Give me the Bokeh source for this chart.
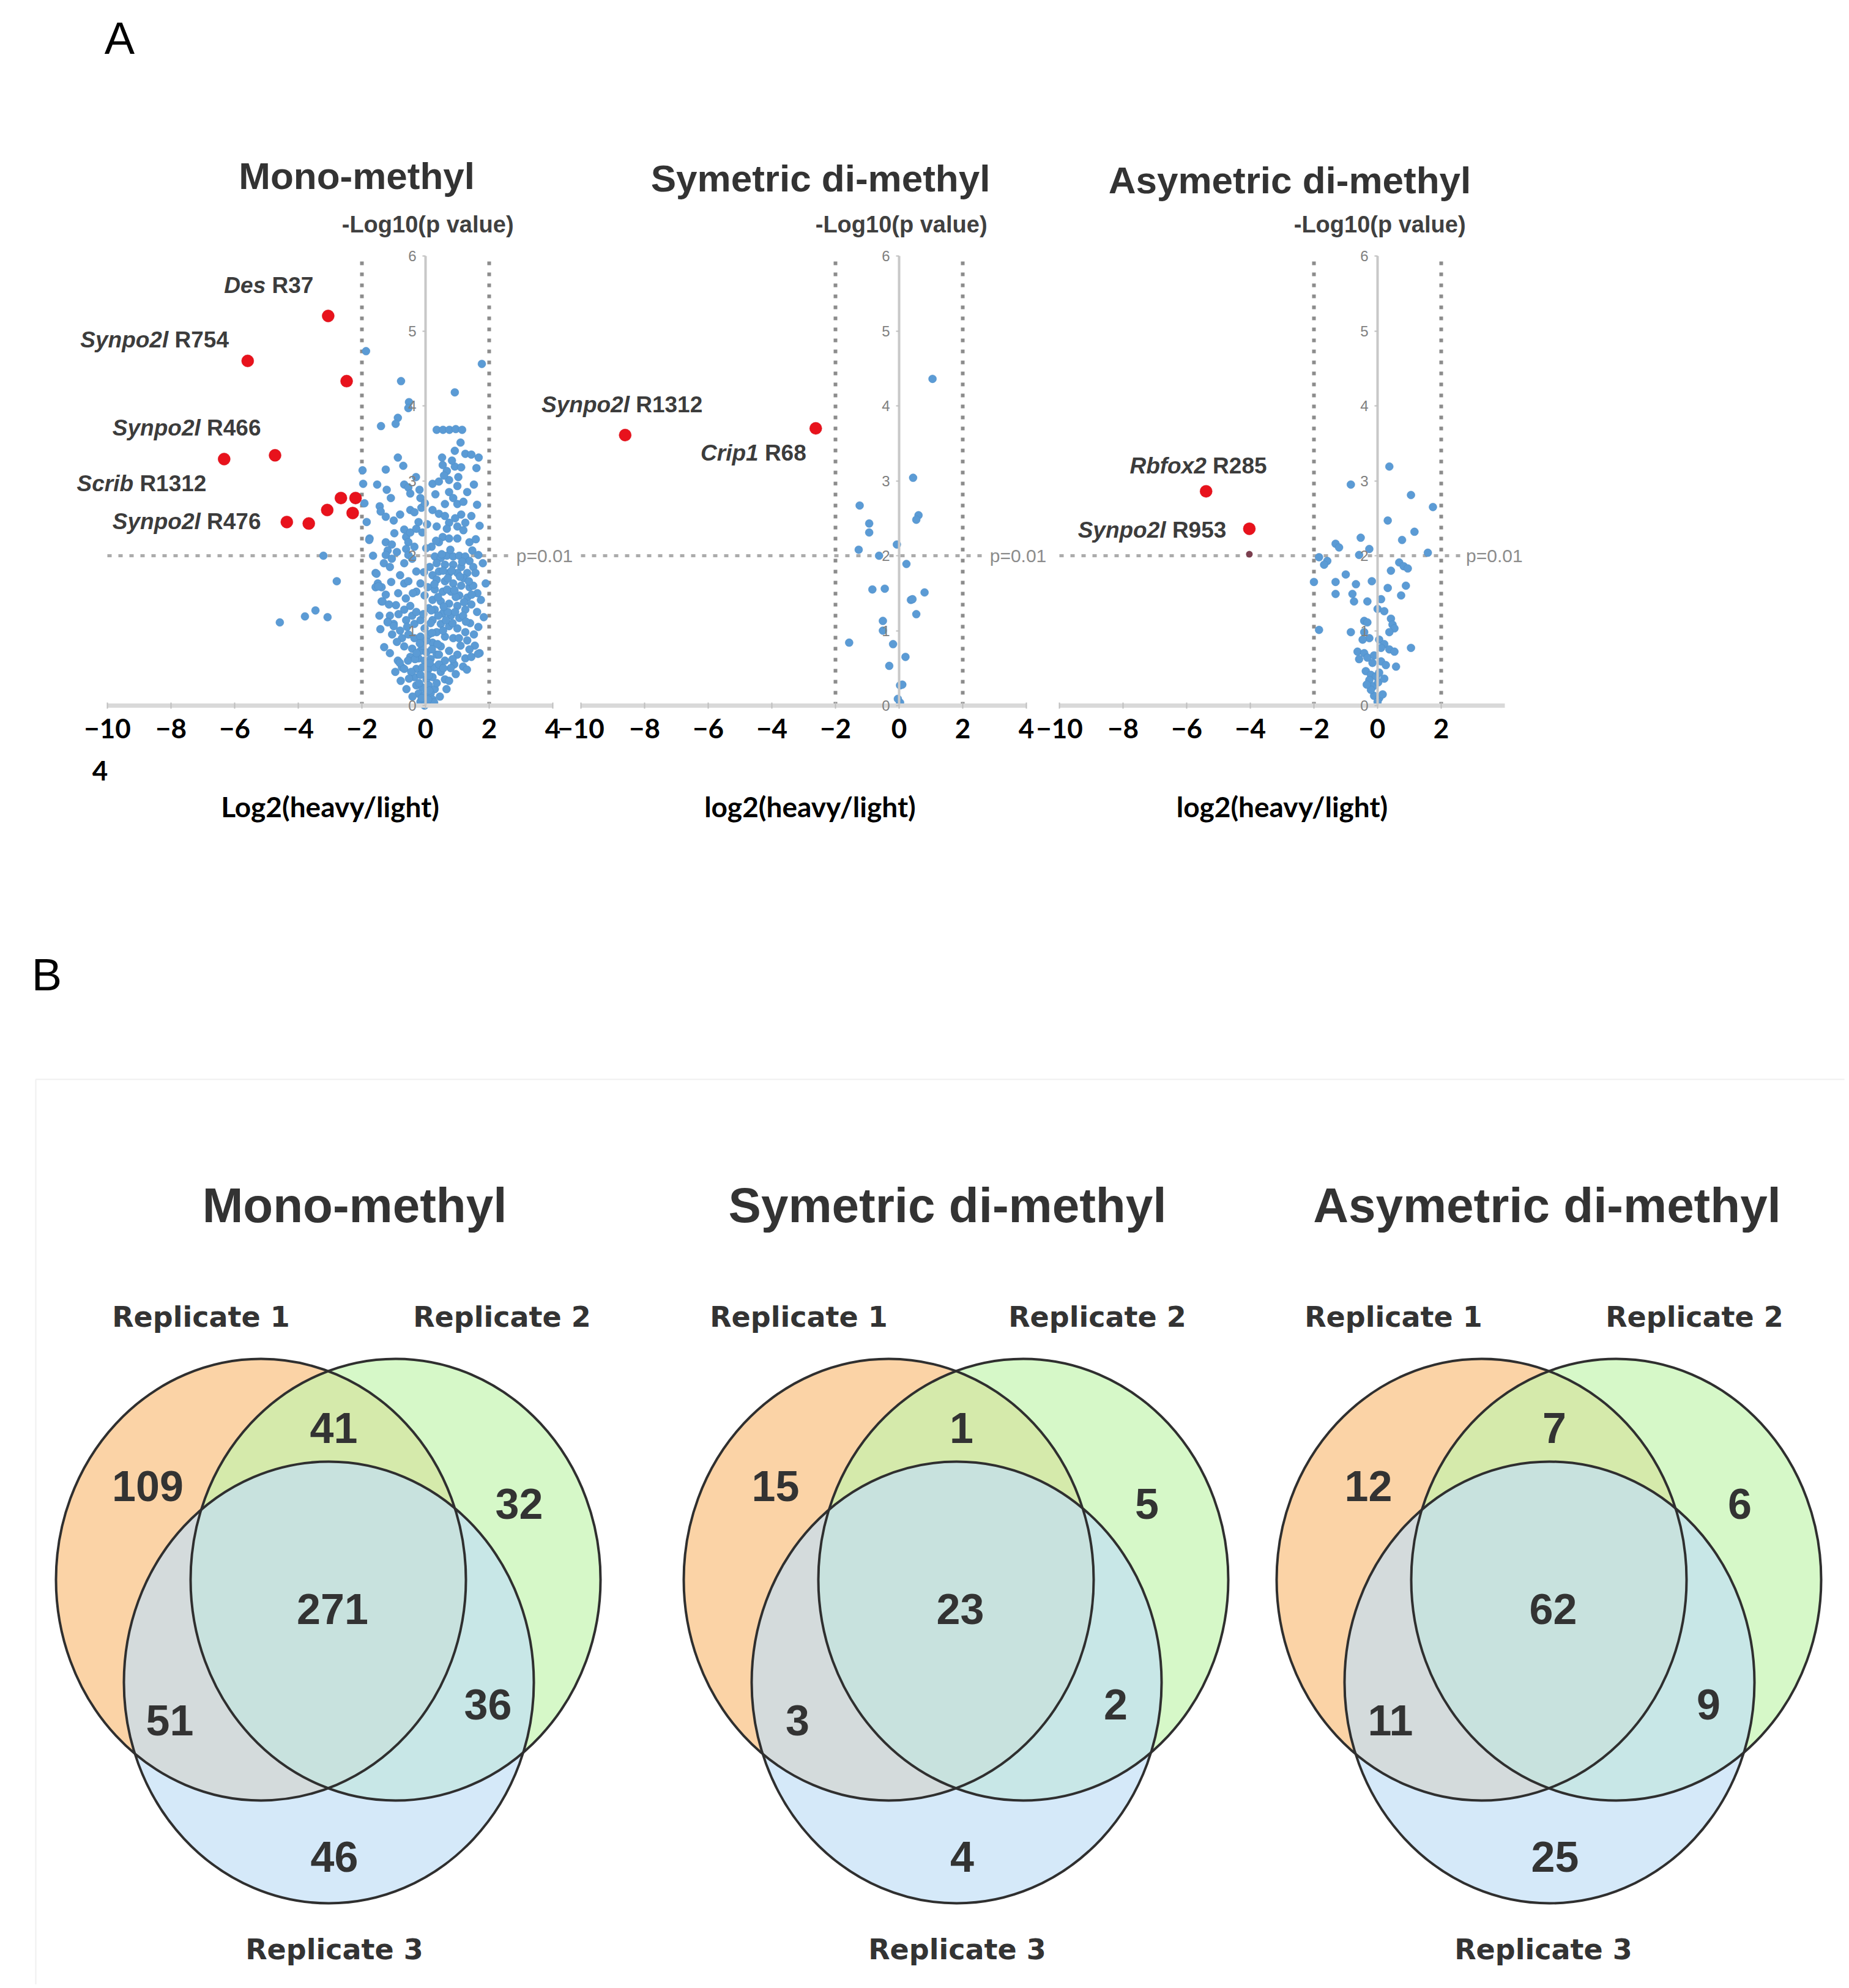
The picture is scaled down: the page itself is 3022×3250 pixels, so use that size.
from bokeh.plotting import figure
from bokeh.models import Range1d, LinearAxis, FixedTicker, ColumnDataSource
from bokeh.core.properties import value
from bokeh.embed import file_html
from bokeh.resources import INLINE

# ------------------------------------------------------------------ data
panel_titles = ["Mono-methyl", "Symetric di-methyl", "Asymetric di-methyl"]
x_titles = ["Log2(heavy/light)", "log2(heavy/light)", "log2(heavy/light)"]
x_ticks = [[-10, -8, -6, -4, -2, 0, 2, 4], [-10, -8, -6, -4, -2, 0, 2, 4], [-10, -8, -6, -4, -2, 0, 2]]
y_ticks = [0, 1, 2, 3, 4, 5, 6]

mono_blue_x = [-1.87, 1.77, -0.77, 0.92, -0.52, -0.54, -0.87, -0.94, -1.40, 0.35, 0.55, 0.75, 0.95, 1.15, 1.10, 0.92,
               1.25, 1.44, 1.67, 0.52, 0.54, 0.67, 0.92, 1.12, 1.60, -0.87, -1.25, -1.98,
               -1.96, -1.22, -1.09, -0.67, -0.54, -0.48, -0.19, -0.16, -1.44, -1.41, -1.25, -1.00, -0.48, -0.35, -0.13,
               0.22, 0.42, 0.61, 0.35, -0.67, -0.61, -0.48, -0.29, -0.10, -1.76, -1.25, -1.06, -1.19, -0.54, -0.35, -0.61,
               0.22, 0.42, 0.74, 1.00, 0.74, 0.87, 0.61, 1.00, 1.19, 1.31, 1.44, 1.12, 0.93, 0.74, 1.00, 1.19, 1.25,
               0.67, 0.54, 0.74, 1.00, 0.42, 1.38,
               -1.25, -1.06, -1.31, -1.12, -0.54, -0.42, -0.67, 0.29, 0.48, 0.67, 0.87, 1.06, 1.25, 1.38, 1.50, 1.57,
               0.35, 0.61, 0.87, 1.12, 0.42, 0.74, 1.00, 1.31, 0.22,
               -1.57, -1.50, -1.57, -1.38, -0.80, -0.67, -0.54, -0.29, -0.16, -0.29, -0.03, -1.38, -0.93,
               1.89, 1.63, 1.44, 0.35, 0.61, 0.87, 1.12, 1.38, 0.29, 0.54, 0.80, 1.06, 1.31, 0.22, 0.48, 0.74, 1.00,
               1.25, 0.29, 0.54, 0.80, 1.06, 0.22, 0.48, 0.74, 1.00, 1.25, 1.31, 0.35, 0.61, 0.87, 0.22, 0.48, 0.74,
               1.00, 1.25, 1.44, 0.35, 0.61, 0.61, 0.74,
               -1.12, -1.19, -1.00, -0.80, -0.67, -0.48, -0.42, -0.29, -0.61, -0.35, -0.16, -0.03, -0.74, -0.54, -0.35,
               -0.16, 0.03, -0.67, -0.42, -0.16, 0.03, -0.48, -0.22, -0.03, -0.87, -0.74,
               -0.29, -0.10, 0.10, 0.29, -0.35, -0.16, 0.03, 0.22, -0.29, -0.10, 0.10, 0.29, -0.22, -0.03, 0.16, -0.16,
               0.03, 0.22, -0.03,
               -3.21, -2.79, -3.46, -3.79, -3.08, -4.58, -1.77, -1.54, -1.48, -1.35, -0.81, -0.67, -1.19, -1.00,
               0.10, 0.16, 0.10, -0.10, 0.16, 0.42, 0.48, 0.35, 0.55, 0.70, 0.95, 1.18, 1.10, 0.90, 0.68, 0.40, 0.85,
               1.20, 0.55, 0.10, -0.45, -0.55, -0.90, -1.05, 0.20, 0.82, 1.40, 1.55, 1.70, 1.50, 1.65,
               -1.42, -1.30, -1.12, -0.95, -0.78, -0.60, -0.41, -0.52, -0.33, -0.18, -0.07, 0.07, 0.13, 0.19, 0.05,
               -0.02, 0.31, 0.58, 0.83, 1.03, 1.52, 1.62, 1.70, 1.58, 1.47, 1.66, 1.80, 1.74, 1.83, 1.66, 1.52, 1.38,
               1.18, 0.95, 0.79, 0.66, 0.45, 0.27, 0.13, 0.38, 0.57, 0.91, 1.15, 0.78, 0.51, 0.28, 0.39, 0.64, 0.93,
               1.21, 1.36, 1.08, 0.70, 0.18, -0.05, -0.40, -0.62, -0.86, -1.08, -1.25, -1.45, -0.98, -0.80, -0.90,
               -1.65, -1.85, -1.92, -1.52, -0.30, -0.70, -0.22, 0.02, 0.33, 0.12, -0.20, 0.42, 0.20, -0.12, 0.08,
               -0.28, -0.58, -0.85, -1.15, 0.56, 0.85, 1.05, 1.27, 1.45, 1.62, 1.30]
mono_blue_y = [4.73, 4.56, 4.33, 4.18, 4.05, 3.97, 3.84, 3.76, 3.73, 3.68, 3.68, 3.68, 3.69, 3.68, 3.51, 3.40,
               3.36, 3.35, 3.31, 3.31, 3.21, 3.13, 3.19, 3.18, 3.17, 3.31, 3.15, 3.14,
               2.96, 2.88, 2.77, 2.95, 2.91, 2.83, 2.88, 2.77, 2.66, 2.59, 2.52, 2.47, 2.61, 2.58, 2.64,
               2.61, 2.56, 2.53, 2.39, 2.35, 2.25, 2.31, 2.36, 2.31, 2.23, 2.18, 2.15, 2.07, 2.18, 2.12, 2.09,
               2.96, 2.99, 3.01, 2.93, 2.85, 2.77, 2.69, 2.69, 2.72, 2.85, 2.53, 2.55, 2.50, 2.44, 2.39, 2.34, 2.44,
               2.36, 2.25, 2.23, 2.23, 2.18, 2.18,
               2.01, 1.96, 1.90, 1.85, 2.01, 1.96, 1.90, 1.99, 1.97, 2.00, 1.99, 2.00, 1.99, 1.93, 1.85, 1.77,
               1.90, 1.88, 1.88, 1.85, 1.79, 1.77, 1.77, 1.77, 1.74,
               1.77, 1.63, 1.58, 1.58, 1.74, 1.63, 1.66, 1.79, 1.63, 1.52, 1.47, 1.39, 1.34,
               1.63, 1.50, 1.35, 1.68, 1.66, 1.63, 1.60, 1.58, 1.55, 1.52, 1.52, 1.47, 1.44, 1.41, 1.39, 1.36, 1.33,
               1.28, 1.28, 1.23, 1.20, 1.17, 1.14, 1.09, 1.06, 1.03, 0.98, 0.87, 0.98, 0.92, 0.90, 0.84, 0.79, 0.73,
               0.68, 0.63, 0.65, 0.68, 0.60, 0.35, 0.33,
               1.20, 1.12, 1.09, 1.00, 1.28, 1.33, 1.20, 1.25, 1.14, 1.09, 1.14, 1.03, 0.90, 0.95, 0.90,
               0.92, 0.87, 0.79, 0.76, 0.73, 0.71, 0.65, 0.63, 0.60, 0.60, 0.51,
               0.49, 0.51, 0.49, 0.51, 0.38, 0.41, 0.35, 0.38, 0.27, 0.24, 0.27, 0.22, 0.16, 0.14, 0.16, 0.05,
               0.03, 0.08, 0.00,
               2.00, 1.66, 1.27, 1.19, 1.18, 1.11, 2.21, 1.76, 1.59, 1.39, 0.57, 0.49, 1.11, 1.06,
               1.30, 1.10, 0.95, 0.80, 0.62, 0.55, 0.45, 0.30, 1.00, 1.25, 1.45, 1.20, 0.80, 0.55, 1.55, 1.20, 1.10,
               1.70, 1.80, 0.40, 0.45, 0.60, 0.85, 0.95, 0.97, 1.80, 1.10, 0.80, 0.70, 1.60, 0.69,
               1.02, 0.78, 0.70, 0.45, 0.33, 0.22, 0.12, 0.36, 0.62, 0.83, 1.22, 1.58, 1.85, 2.12, 2.42,
               2.70, 2.82, 3.07, 3.27, 3.05, 2.95, 2.68, 2.40, 2.22, 2.07, 2.01, 1.90, 1.41, 1.18, 1.05, 0.95, 0.75,
               0.52, 0.42, 0.50, 0.22, 0.12, 0.04, 0.57, 0.82, 1.32, 1.54, 1.92, 2.08, 2.02, 1.62, 1.45, 1.14, 1.25,
               1.38, 1.66, 1.72, 1.70, 1.27, 1.78, 1.50, 1.43, 1.50, 1.65, 1.48, 1.20, 2.30, 2.55, 2.05,
               2.00, 2.45, 2.70, 2.95, 3.05, 3.20, 2.45, 2.10, 2.20, 0.20, 0.30, 0.68, 0.75, 0.10, 0.08,
               0.70, 1.05, 1.22, 1.35, 0.50, 0.62, 0.90, 1.12, 1.48, 1.25, 0.48]

sym_blue_x = [1.05, 0.44, -1.24, -0.94, -0.94, 0.61, 0.54, -0.07, -1.27, -0.63, 0.23, -0.84, -0.45, 0.80, 0.37, 0.42,
              0.54, -0.51, -0.51, -1.57, -0.19, 0.20, -0.31, 0.03, 0.10, 0.03, -0.04]
sym_blue_y = [4.36, 3.04, 2.67, 2.43, 2.31, 2.54, 2.48, 2.15, 2.08, 2.00, 1.89, 1.55, 1.56, 1.51, 1.41, 1.42,
              1.22, 1.13, 1.00, 0.84, 0.82, 0.65, 0.53, 0.27, 0.28, 0.04, 0.09]

asym_blue_x = [0.37, -0.84, 1.05, 1.74, 0.32, 1.16, -0.53, 0.77, -1.32, -1.21, -0.26, -0.58, 1.58, -1.84, -1.58,
               -1.68, 0.68, 0.82, 0.95, 0.42, -1.00, -1.32, -0.18, -2.00, -0.68, 0.32, 0.89, 0.74, -1.32, -0.79,
               -0.74, 0.11, -0.32, 0.00, 0.21, -0.42, -0.32, 0.42, 0.47, 0.53, 0.37, -0.84, -1.84, -0.42, -0.26,
               -0.47, 1.05, 0.05, 0.21, 0.11, 0.37, 0.53, -0.63, -0.42, -0.58, -0.32, -0.11, -0.16, 0.11, 0.26,
               0.58, -0.37, -0.21, -0.05, 0.05, -0.26, -0.13, 0.02, 0.21, -0.11, 0.05, 0.16, 0.00, -0.21, -0.34]
asym_blue_y = [3.19, 2.95, 2.81, 2.65, 2.47, 2.32, 2.24, 2.21, 2.16, 2.11, 2.09, 2.01, 2.04, 1.98, 1.93,
               1.88, 1.91, 1.86, 1.83, 1.80, 1.75, 1.65, 1.66, 1.65, 1.62, 1.57, 1.60, 1.47, 1.49, 1.49,
               1.39, 1.42, 1.39, 1.29, 1.26, 1.13, 1.11, 1.16, 1.08, 1.03, 0.98, 0.98, 1.01, 0.98, 0.90,
               0.88, 0.77, 0.88, 0.82, 0.77, 0.75, 0.72, 0.72, 0.70, 0.62, 0.64, 0.67, 0.57, 0.59, 0.54,
               0.52, 0.46, 0.41, 0.39, 0.44, 0.34, 0.26, 0.31, 0.36, 0.13, 0.10, 0.15, 0.05, 0.21, 0.28]

mono_red_x = [-3.06, -5.59, -2.48, -4.73, -6.33, -2.66, -2.20, -2.29, -3.09, -3.67, -4.36]
mono_red_y = [5.20, 4.60, 4.33, 3.34, 3.29, 2.77, 2.77, 2.57, 2.61, 2.43, 2.45]
sym_red_x = [-8.61, -2.62]
sym_red_y = [3.61, 3.70]
asym_red_x = [-5.39, -4.03]
asym_red_y = [2.86, 2.36]
asym_dark_x = [-4.03]
asym_dark_y = [2.02]

mono_genes = ["Des", "Synpo2l", "Synpo2l", "Scrib", "Synpo2l"]
mono_sites = ["R37", "R754", "R466", "R1312", "R476"]
mono_lab_x = [-6.33, -10.85, -9.84, -10.96, -9.84]
mono_lab_y = [5.61, 4.88, 3.71, 2.96, 2.46]
sym_genes = ["Synpo2l", "Crip1"]
sym_sites = ["R1312", "R68"]
sym_lab_x = [-11.24, -6.24]
sym_lab_y = [4.02, 3.37]
asym_genes = ["Rbfox2", "Synpo2l"]
asym_sites = ["R285", "R953"]
asym_lab_x = [-7.79, -9.42]
asym_lab_y = [3.20, 2.34]

fc_cut = 2.0
p_cut = 2.0   # -log10(0.01)

# Venn counts: only R1, R1&R2, only R2, all three, R1&R3, R2&R3, only R3
venn_titles = ["Mono-methyl", "Symetric di-methyl", "Asymetric di-methyl"]
venn_counts = [[109, 41, 32, 271, 51, 36, 46],
               [15, 1, 5, 23, 3, 2, 4],
               [12, 7, 6, 62, 11, 9, 25]]
rep_names = ["Replicate 1", "Replicate 2", "Replicate 3"]

# ------------------------------------------------------------------ layout constants (image pixels)
W, H = 3016, 3244
IMG_H = 3250
PX = 52.0          # px per log2 unit
PY = 122.5         # px per -log10 unit
Y0 = 1153          # image y of -log10 = 0
X0 = [695, 1469, 2251]


def iy(v):
    return IMG_H - v


p = figure(width=W, height=H, output_backend="svg", toolbar_location=None,
           x_axis_location=None, y_axis_location=None, min_border=0,
           x_range=Range1d(0, W), y_range=Range1d(IMG_H - H, IMG_H))
p.outline_line_color = None
p.background_fill_color = "white"
p.border_fill_color = "white"
p.grid.grid_line_color = None

p.extra_y_ranges = {"v": Range1d((Y0 - H) / PY, Y0 / PY)}
p.extra_x_ranges = {f"p{k}": Range1d((0 - X0[k]) / PX, (W - X0[k]) / PX) for k in range(3)}

FONT = value("Liberation Sans")
LATO = value("Lato")

blue_sets = [(mono_blue_x, mono_blue_y), (sym_blue_x, sym_blue_y), (asym_blue_x, asym_blue_y)]
red_sets = [(mono_red_x, mono_red_y), (sym_red_x, sym_red_y), (asym_red_x, asym_red_y)]
lab_sets = [(mono_genes, mono_sites, mono_lab_x, mono_lab_y),
            (sym_genes, sym_sites, sym_lab_x, sym_lab_y),
            (asym_genes, asym_sites, asym_lab_x, asym_lab_y)]
title_x = [-2.16, -2.47, -2.76]
title_y = [7.07, 7.04, 7.01]
xtitle_x = [-3.0, -2.8, -3.0]
pline_end = [2.7, 2.7, 2.63]

# Arial-bold advance widths (em) for label offsets
CW = {'D': .722, 'e': .556, 's': .556, 'S': .667, 'y': .556, 'n': .611, 'p': .611, 'o': .611, '2': .556,
      'l': .278, 'c': .556, 'r': .389, 'i': .278, 'b': .611, 'C': .722, '1': .556, 'R': .722, 'f': .333,
      'x': .556, ' ': .278}
LAB_FS = 37

for k in range(3):
    xr = f"p{k}"
    kw = dict(x_range_name=xr, y_range_name="v")
    # threshold lines
    p.segment(x0=[-fc_cut, fc_cut], y0=[0, 0], x1=[-fc_cut, fc_cut], y1=[6, 6],
              line_color="#8C8C8C", line_width=6, line_dash="6 12", **kw)
    p.segment(x0=[-10], y0=[p_cut], x1=[pline_end[k]], y1=[p_cut],
              line_color="#ABABAB", line_width=5, line_dash="7 11", **kw)
    p.text(x=[pline_end[k] + 0.15], y=[p_cut], text=["p=0.01"], text_font=FONT, text_font_size="30px",
           text_color="#8C8C8C", text_align="left", text_baseline="middle", **kw)

    # axes
    xa = LinearAxis(x_range_name=xr, y_range_name="v", fixed_location=0, bounds=(-10, 4),
                    ticker=FixedTicker(ticks=x_ticks[k]))
    xa.axis_line_color = "#D9D9D9"
    xa.axis_line_width = 7
    xa.major_tick_line_color = "#BFBFBF"
    xa.major_tick_line_width = 2
    xa.major_tick_in = 5
    xa.major_tick_out = 5
    xa.minor_tick_line_color = None
    xa.major_label_text_font = "Lato"
    xa.major_label_text_font_style = "bold"
    xa.major_label_text_font_size = "44px"
    xa.major_label_text_color = "black"
    xa.major_label_standoff = 16
    p.add_layout(xa, "below")

    ya = LinearAxis(x_range_name=xr, y_range_name="v", fixed_location=0, bounds=(0, 6),
                    ticker=FixedTicker(ticks=y_ticks))
    ya.axis_line_color = "#C8C8C8"
    ya.axis_line_width = 4
    ya.major_tick_line_color = "#BFBFBF"
    ya.major_tick_line_width = 2
    ya.major_tick_in = 0
    ya.major_tick_out = 5
    ya.minor_tick_line_color = None
    ya.major_label_text_font = "Liberation Sans"
    ya.major_label_text_font_size = "24px"
    ya.major_label_text_color = "#808080"
    ya.major_label_standoff = 10
    p.add_layout(ya, "left")

    # points
    bx, by = blue_sets[k]
    p.scatter(x=bx, y=by, size=13, fill_color="#5B9BD5", line_color="#4A8AC4", line_width=0.5, **kw)
    rx, ry = red_sets[k]
    p.scatter(x=rx, y=ry, size=20, fill_color="#E8121C", line_color="#D00A14", line_width=0.5, **kw)
    if k == 2:
        p.scatter(x=asym_dark_x, y=asym_dark_y, size=11, fill_color="#7B3F4F", line_color=None, **kw)

    # labels of significant sites
    genes, sites, lx, ly = lab_sets[k]
    offs = [(sum(CW.get(c, .556) for c in g) + CW[' ']) * LAB_FS for g in genes]
    p.text(x=lx, y=ly, text=genes, text_font=FONT, text_font_style="bold italic",
           text_font_size=f"{LAB_FS}px", text_color="#3C3C3C", text_align="left", text_baseline="middle", **kw)
    src = ColumnDataSource(dict(x=lx, y=ly, t=sites, o=offs))
    p.text(x="x", y="y", text="t", x_offset="o", source=src, text_font=FONT, text_font_style="bold",
           text_font_size=f"{LAB_FS}px", text_color="#3C3C3C", text_align="left", text_baseline="middle", **kw)

    # titles
    p.text(x=[title_x[k]], y=[title_y[k]], text=[panel_titles[k]], text_font=FONT, text_font_style="bold",
           text_font_size="62px", text_color="#333333", text_align="center", text_baseline="middle", **kw)
    p.text(x=[0.07], y=[6.42], text=["-Log10(p value)"], text_font=FONT, text_font_style="bold",
           text_font_size="38px", text_color="#404040", text_align="center", text_baseline="middle", **kw)
    p.text(x=[xtitle_x[k]], y=[-1.35], text=[x_titles[k]], text_font=LATO, text_font_style="bold",
           text_font_size="46px", text_color="black", text_align="center", text_baseline="middle", **kw)

# stray wrapped tick label under the first axis
p.text(x=[-10.23], y=[-0.87], text=["4"], text_font=LATO, text_font_style="bold", text_font_size="44px",
       text_color="black", text_align="center", text_baseline="middle", x_range_name="p0", y_range_name="v")

# panel letters
p.text(x=[195, 76], y=[iy(62), iy(1593)], text=["A", "B"], text_font=FONT, text_font_size="74px",
       text_color="black", text_align="center", text_baseline="middle")

# faint frame of panel B
p.segment(x0=[58, 58], y0=[iy(1764), iy(1764)], x1=[3014, 58], y1=[iy(1764), iy(3250)],
          line_color="#F0F0F0", line_width=2)

# ------------------------------------------------------------------ Venn diagrams
VC = [537, 1563, 2532]
circ_dx = [-111, 109, 0]
circ_y = [2582, 2582, 2750]
circ_fill = ["#F9BE7C", "#C3F5AE", "#C1DFF6"]
reg_dx = [-296, 8, 311, 6, -260, 260, 9]
reg_y = [2429, 2334, 2458, 2630, 2812, 2786, 3035]
vt_x = [579, 1548, 2528]
rep1_x = [328, 1305, 2277]
rep2_x = [820, 1793, 2769]
rep3_x = [546, 1564, 2522]

for i in range(3):
    cx = VC[i]
    for j in range(3):
        p.ellipse(x=[cx + circ_dx[j]], y=[iy(circ_y[j])], width=670, height=722,
                  width_units="screen", height_units="screen",
                  fill_color=circ_fill[j], fill_alpha=0.68, line_color=None)
    for j in range(3):
        p.ellipse(x=[cx + circ_dx[j]], y=[iy(circ_y[j])], width=670, height=722,
                  width_units="screen", height_units="screen",
                  fill_color=None, line_color="#2F2F2F", line_width=4)
    p.text(x=[cx + d for d in reg_dx], y=[iy(v) for v in reg_y], text=[str(c) for c in venn_counts[i]],
           text_font=FONT, text_font_style="bold", text_font_size="70px", text_color="#333333",
           text_align="center", text_baseline="middle")
    p.text(x=[vt_x[i]], y=[iy(1970)], text=[venn_titles[i]], text_font=FONT, text_font_style="bold",
           text_font_size="80px", text_color="#333333", text_align="center", text_baseline="middle")
    p.text(x=[rep1_x[i], rep2_x[i], rep3_x[i]], y=[iy(2152), iy(2152), iy(3186)], text=rep_names,
           text_font=value("DejaVu Sans"), text_font_style="bold", text_font_size="46px",
           text_color="#333333", text_align="center", text_baseline="middle")

open("out.html", "w").write(file_html(p, INLINE))
